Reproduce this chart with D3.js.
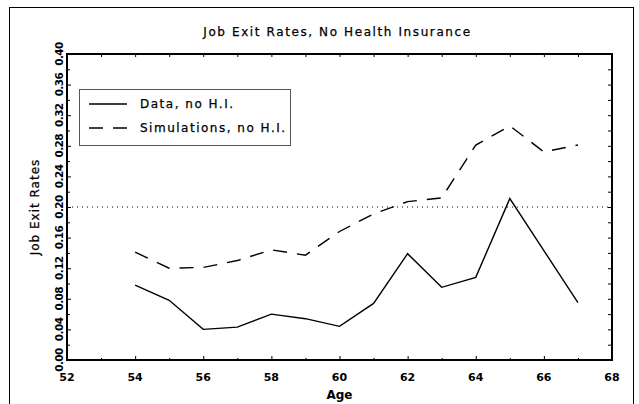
<!DOCTYPE html>
<html>
<head>
<meta charset="utf-8">
<script src="https://cdn.jsdelivr.net/npm/d3@7"></script>
<style>
  body { margin: 0; background: #fff; }
  text { font-family: "DejaVu Sans", sans-serif; fill: #000; }
  .lbl { stroke: #000; stroke-width: 0.25px; }
</style>
</head>
<body>
<div id="chart"></div>
<script>
// data
var ages = [54, 55, 56, 57, 58, 59, 60, 61, 62, 63, 64, 65, 66, 67];
var dataNoHI = [0.098, 0.078, 0.040, 0.043, 0.060, 0.054, 0.044, 0.074, 0.139, 0.095, 0.108, 0.211, 0.143, 0.075];
var simNoHI = [0.141, 0.120, 0.121, 0.130, 0.144, 0.137, 0.168, 0.191, 0.207, 0.212, 0.281, 0.306, 0.272, 0.281];
var xTicks = [52, 54, 56, 58, 60, 62, 64, 66, 68];
var yTicks = [0, 0.04, 0.08, 0.12, 0.16, 0.20, 0.24, 0.28, 0.32, 0.36, 0.40];
var refLine = 0.20;
var legendLabels = ["Data, no H.I.", "Simulations, no H.I."];

var W = 639, H = 404;
var margin = {top: 54, right: 27, bottom: 44, left: 67},
  width = W - margin.left - margin.right,
  height = H - margin.top - margin.bottom;

var svg = d3.select("#chart")
.append("svg")
  .attr("width", W)
  .attr("height", H);

// outer frame
svg.append("rect")
  .attr("x", 9.5).attr("y", 7.5)
  .attr("width", 624).attr("height", 410)
  .attr("fill", "none").attr("stroke", "#000").attr("stroke-width", 1);

var g = svg.append("g")
  .attr("transform", "translate(" + margin.left + "," + margin.top + ")");

var x = d3.scaleLinear().domain([52, 68]).range([0, width]);
var y = d3.scaleLinear().domain([0, 0.40]).range([height, 0]);

// bottom axis: major every 2, minor every 1, inward
var xAxisB = g.append("g")
  .attr("transform", "translate(0," + height + ")")
  .call(d3.axisBottom(x).tickValues(d3.range(52, 69, 1)).tickSize(-2).tickFormat(""));
xAxisB.selectAll(".tick line").attr("y2", function(d) { return d % 2 == 0 ? -4 : -2; });
xAxisB.select(".domain").remove();
g.selectAll(".xlab")
  .data(xTicks)
  .enter()
  .append("text")
  .attr("class", "xlab")
  .attr("x", function(d) { return x(d); })
  .attr("y", height + 21)
  .attr("text-anchor", "middle")
  .style("font-size", "11px").style("font-weight", "bold")
  .text(function(d) { return d; });

// top axis, ticks every year
var xAxisT = g.append("g")
  .call(d3.axisTop(x).tickValues(d3.range(52, 69, 1)).tickSize(-3).tickFormat(""));
xAxisT.select(".domain").remove();

// left axis: major 0.04, minor 0.02
var yAxisL = g.append("g")
  .call(d3.axisLeft(y).tickValues(d3.range(0, 0.401, 0.02)).tickSize(-3).tickFormat(""));
yAxisL.select(".domain").remove();
yAxisL.selectAll(".tick line").attr("x2", function(d, i) { return i % 2 == 0 ? 4 : 3; });

g.selectAll(".ylab")
  .data(yTicks)
  .enter()
  .append("text")
  .attr("class", "ylab")
  .attr("transform", function(d) { return "translate(-4," + y(d) + ") rotate(-90)"; })
  .attr("text-anchor", "middle")
  .style("font-size", "10.5px").style("font-weight", "bold").style("letter-spacing", "-0.6px")
  .text(function(d) { return d3.format(".2f")(d); });

// right axis ticks
var yAxisR = g.append("g")
  .attr("transform", "translate(" + width + ",0)")
  .call(d3.axisRight(y).tickValues(d3.range(0, 0.401, 0.02)).tickSize(-4).tickFormat(""));
yAxisR.select(".domain").remove();

g.selectAll(".tick line").attr("stroke", "#000").attr("stroke-width", 1);

// plot box
g.append("rect")
  .attr("width", width).attr("height", height)
  .attr("fill", "none").attr("stroke", "#000").attr("stroke-width", 2);

// reference line at 0.20
g.append("line")
  .attr("x1", 0).attr("x2", width)
  .attr("y1", y(refLine)).attr("y2", y(refLine))
  .attr("stroke", "#000").attr("stroke-width", 1)
  .attr("stroke-dasharray", "1,4");

var line = d3.line()
  .x(function(d) { return x(d[0]); })
  .y(function(d) { return y(d[1]); });

g.append("path")
  .datum(d3.zip(ages, dataNoHI))
  .attr("d", line)
  .attr("fill", "none").attr("stroke", "#000").attr("stroke-width", 1.4);

g.append("path")
  .datum(d3.zip(ages, simNoHI))
  .attr("d", line)
  .attr("fill", "none").attr("stroke", "#000").attr("stroke-width", 1.4)
  .attr("stroke-dasharray", "14,10");

// titles
svg.append("text")
  .attr("class", "lbl")
  .attr("x", margin.left + width / 2 - 2).attr("y", 36)
  .attr("text-anchor", "middle")
  .style("font-size", "12px").style("letter-spacing", "1.6px")
  .text("Job Exit Rates, No Health Insurance");

svg.append("text")
  .attr("x", margin.left + width / 2).attr("y", 399)
  .attr("text-anchor", "middle")
  .style("font-size", "12px").style("font-weight", "bold")
  .text("Age");

svg.append("text")
  .attr("class", "lbl")
  .attr("transform", "translate(39," + (margin.top + height / 2) + ") rotate(-90)")
  .attr("text-anchor", "middle")
  .style("font-size", "12px").style("letter-spacing", "1px")
  .text("Job Exit Rates");

// legend
var legend = svg.append("g").attr("transform", "translate(79,89)");
legend.append("rect")
  .attr("x", 0.5).attr("y", 0.5)
  .attr("width", 211).attr("height", 56)
  .attr("fill", "#fff").attr("stroke", "#555").attr("stroke-width", 1);
var dashes = [null, "14,10"];
legendLabels.forEach(function(lab, i) {
  var ly = 15 + i * 24;
  legend.append("line")
    .attr("x1", 10).attr("x2", 48)
    .attr("y1", ly).attr("y2", ly)
    .attr("stroke", "#000").attr("stroke-width", 1.4)
    .attr("stroke-dasharray", dashes[i]);
  legend.append("text")
    .attr("class", "lbl")
    .attr("x", 61).attr("y", ly + 4)
    .style("font-size", "12px").style("letter-spacing", "1.5px")
    .text(lab);
});
</script>
</body>
</html>
